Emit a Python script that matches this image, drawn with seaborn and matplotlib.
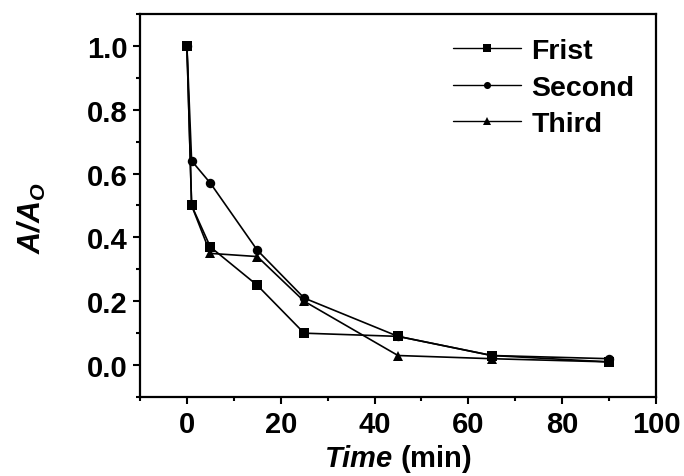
import matplotlib
matplotlib.use("Agg")
import matplotlib.pyplot as plt
import pandas as pd
import seaborn as sns
from matplotlib.ticker import AutoMinorLocator, MultipleLocator

# sampling times (min)
time_min = [0, 1, 5, 15, 25, 45, 65, 90]

# normalised absorbance A/Ao for each run
first_run = [1.00, 0.50, 0.37, 0.25, 0.10, 0.09, 0.03, 0.01]
second_run = [1.00, 0.64, 0.57, 0.36, 0.21, 0.09, 0.03, 0.02]
third_run = [1.00, 0.50, 0.35, 0.34, 0.20, 0.03, 0.02, 0.01]

run_names = ["Frist", "Second", "Third"]
run_markers = ["s", "o", "^"]

sns.set_theme(style="ticks")
plt.rcParams["font.family"] = ["Liberation Sans", "DejaVu Sans"]
plt.rcParams["font.weight"] = "bold"
plt.rcParams["mathtext.fontset"] = "custom"
plt.rcParams["mathtext.rm"] = "Liberation Sans:bold"
plt.rcParams["mathtext.bf"] = "Liberation Sans:bold"
plt.rcParams["mathtext.it"] = "Liberation Sans:italic"
plt.rcParams["mathtext.bfit"] = "Liberation Sans:italic:bold"
# pure black text and ticks, like the original figure
for key in ["text.color", "axes.labelcolor", "xtick.color", "ytick.color",
            "axes.edgecolor"]:
    plt.rcParams[key] = "black"

df = pd.DataFrame({
    "time": time_min * 3,
    "ratio": first_run + second_run + third_run,
    "run": [n for n in run_names for _ in time_min],
})

fig = plt.figure(figsize=(6.84, 4.77), dpi=100)
ax = fig.add_axes([0.2047, 0.1656, 0.7543, 0.803])

for name, mk in zip(run_names, run_markers):
    sub = df[df["run"] == name]
    sns.lineplot(data=sub, x="time", y="ratio", ax=ax, color="black",
                 marker=mk, markersize=6.8, markeredgewidth=0,
                 linewidth=1.2, label=name)

ax.set_xlim(-10, 100)
ax.set_ylim(-0.1, 1.1)
ax.xaxis.set_major_locator(MultipleLocator(20))
ax.set_yticks([0.0, 0.2, 0.4, 0.6, 0.8, 1.0])
ax.xaxis.set_minor_locator(AutoMinorLocator(2))
ax.yaxis.set_minor_locator(AutoMinorLocator(2))
ax.tick_params(which="major", direction="out", length=5, width=1.5,
               labelsize=21, top=False, right=False, pad=4)
ax.tick_params(which="minor", direction="out", length=3, width=1.5,
               top=False, right=False)
for lab in ax.get_xticklabels() + ax.get_yticklabels():
    lab.set_fontweight("bold")

for sp in ax.spines.values():
    sp.set_linewidth(1.6)
    sp.set_color("black")

ax.set_xlabel(r"$\mathbfit{Time}$ (min)", fontsize=21, fontweight="bold",
              labelpad=3)
ax.set_ylabel(r"$\mathbfit{A/A}_{\mathit{O}}$", fontsize=22)
ax.yaxis.set_label_coords(-0.178, 0.47)

leg = ax.legend(loc="upper right", frameon=False, fontsize=20.5,
                handlelength=2.4, handletextpad=0.35, labelspacing=0.38,
                markerscale=0.75, bbox_to_anchor=(1.008, 1.005))
for t in leg.get_texts():
    t.set_fontweight("bold")
    t.set_color("black")
for h in leg.get_lines():
    h.set_linewidth(1.0)

fig.savefig("out.png", dpi=100)
